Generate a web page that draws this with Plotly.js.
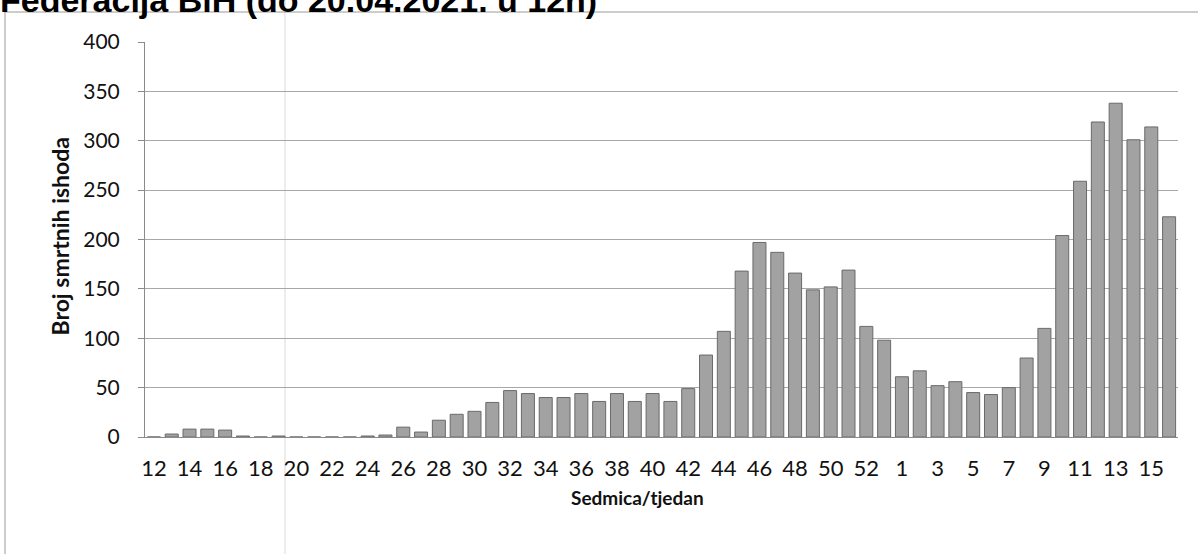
<!DOCTYPE html>
<html>
<head>
<meta charset="utf-8">
<script src="https://cdn.plot.ly/plotly-3.0.1.min.js"></script>
<style>html,body{margin:0;padding:0;background:#fff;}#chart{width:1198px;height:554px;}</style>
</head>
<body>
<div id="chart"></div>
<script>
// Week numbers (2020: 12-53, 2021: 1-16)
const weeks2020 = [12,13,14,15,16,17,18,19,20,21,22,23,24,25,26,27,28,29,30,31,32,33,34,35,36,37,38,39,40,41,42,43,44,45,46,47,48,49,50,51,52,53];
const deaths2020 = [0,3,8,8,7,1,0,1,0,0,0,0,1,2,10,5,17,23,26,35,47,44,40,40,44,36,44,36,44,36,49,83,107,168,197,187,166,149,152,169,112,98];
const weeks2021 = [1,2,3,4,5,6,7,8,9,10,11,12,13,14,15,16];
const deaths2021 = [61,67,52,56,45,43,50,80,110,204,259,319,338,301,314,223];

const categories = weeks2020.map(w => w + '/2020').concat(weeks2021.map(w => w + '/2021'));
const values = deaths2020.concat(deaths2021);
const weekLabels = weeks2020.concat(weeks2021).map(String);
const tickCats = categories.filter((c, i) => i % 2 === 0);
const tickText = weekLabels.filter((c, i) => i % 2 === 0);
const yTickVals = [0,50,100,150,200,250,300,350,400];

const titleText = 'Federacija BiH (do 20.04.2021. u 12h)';
const yTitle = 'Broj smrtnih ishoda';
const xTitle = 'Sedmica/tjedan';

const trace = {
  type: 'bar',
  x: categories,
  y: values,
  marker: {color: '#a2a2a2', line: {color: '#6a6a6a', width: 1}},
  hoverinfo: 'x+y'
};

const layout = {
  width: 1198, height: 554,
  margin: {l: 145, r: 20, t: 42, b: 117, pad: 0},
  paper_bgcolor: '#fff', plot_bgcolor: '#fff',
  showlegend: false,
  bargap: 0.27,
  title: {
    text: '<b>' + titleText + '</b>',
    font: {family: 'Liberation Sans, Arial, sans-serif', size: 34, color: '#000'},
    x: 0, xref: 'container', xanchor: 'left',
    y: 1.0, yref: 'container', yanchor: 'middle',
    pad: {t: 0, b: 0, l: 0, r: 0}
  },
  xaxis: {
    type: 'category',
    tickmode: 'array', tickvals: tickCats, ticktext: tickText,
    tickangle: 0,
    tickfont: {family: 'Lato, Carlito, sans-serif', size: 22, color: '#111'},
    ticks: '',
    ticklabelstandoff: 12,
    showgrid: false,
    showline: true, linecolor: '#8a8a8a', linewidth: 1,
    zeroline: false
  },
  yaxis: {
    range: [0, 400],
    tickmode: 'array', tickvals: yTickVals,
    tickfont: {family: 'Lato, Carlito, sans-serif', size: 21, color: '#111'},
    ticks: 'outside', ticklen: 6, tickcolor: '#8a8a8a',
    ticklabelstandoff: 14,
    showgrid: true, gridcolor: '#a8a8a8', gridwidth: 1,
    showline: true, linecolor: '#8a8a8a', linewidth: 1,
    zeroline: false
  },
  annotations: [
    {text: '<b>' + yTitle + '</b>', xref: 'paper', yref: 'paper', x: -0.0823, y: 0.51,
     xanchor: 'center', yanchor: 'middle', textangle: -90, showarrow: false,
     font: {family: 'Lato, Carlito, sans-serif', size: 23, color: '#111'}},
    {text: '<b>' + xTitle + '</b>', xref: 'paper', yref: 'paper', x: 0.4763, y: -0.152,
     xanchor: 'center', yanchor: 'middle', showarrow: false,
     font: {family: 'Lato, Carlito, sans-serif', size: 19, color: '#111'}}
  ],
  shapes: [
    {type: 'line', xref: 'paper', yref: 'paper', x0: -0.1355, x1: 1.05, y0: 1.0759, y1: 1.0759, line: {color: '#9a9a9a', width: 1}},
    {type: 'line', xref: 'paper', yref: 'paper', x0: -0.1355, x1: -0.1355, y0: 1.0759, y1: -0.4, line: {color: '#9a9a9a', width: 1}},
    {type: 'line', xref: 'paper', yref: 'paper', x0: 0.1355, x1: 0.1355, y0: 1.12, y1: -0.4, line: {color: '#dcdcdc', width: 1}, layer: 'below'}
  ]
};

Plotly.newPlot('chart', [trace], layout, {displayModeBar: false, staticPlot: true});
</script>
</body>
</html>
